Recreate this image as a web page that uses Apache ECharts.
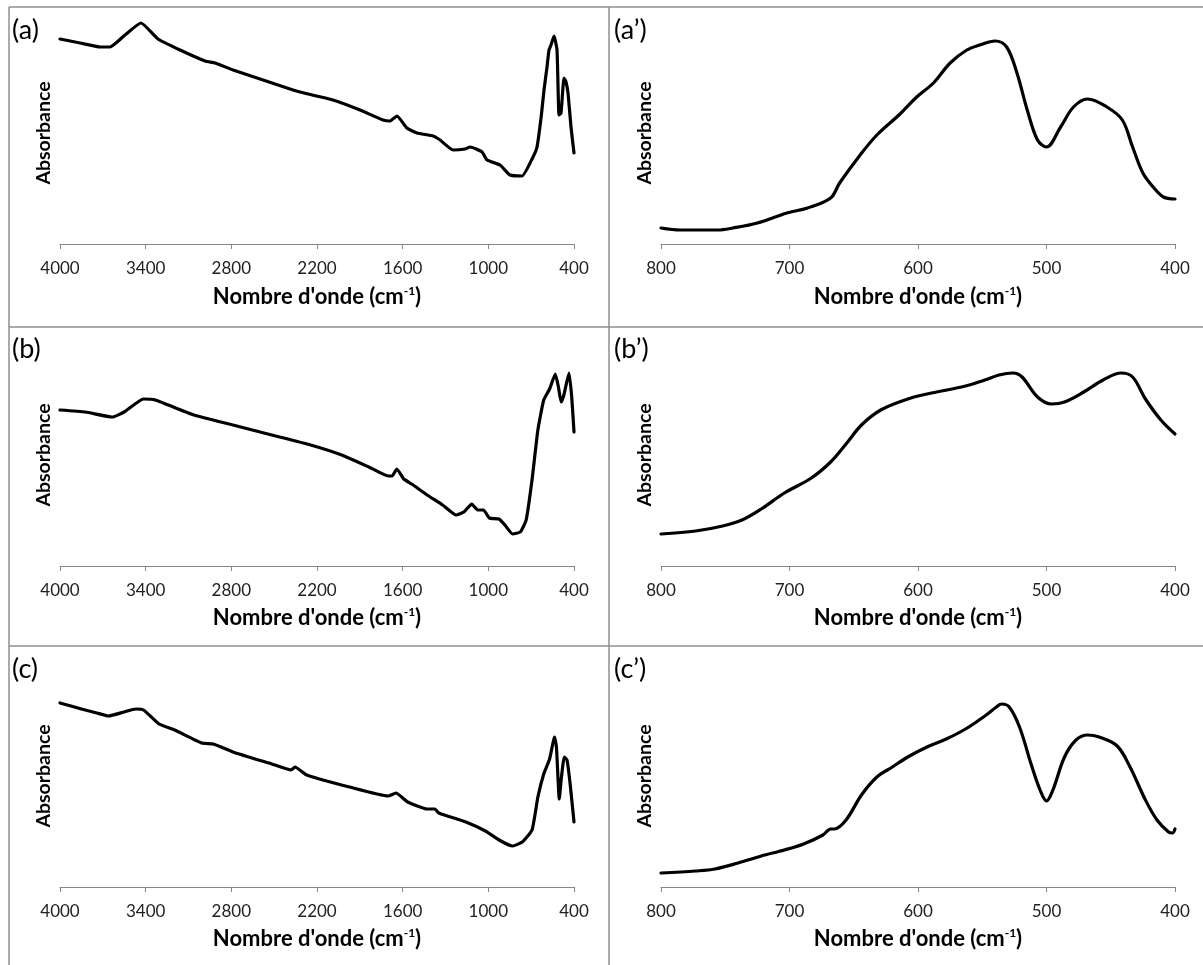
<!DOCTYPE html>
<html>
<head>
<meta charset="utf-8">
<script src="https://cdn.jsdelivr.net/npm/echarts@6/dist/echarts.min.js"></script>
<style>
html,body{margin:0;padding:0;background:#fff;}
#chart{width:1203px;height:965px;}
</style>
</head>
<body>
<div id="chart"></div>
<script>
// ---- Data (wavenumber in cm-1, absorbance in arbitrary units) ----
const panelLabels = ['(a)', '(a\u2019)', '(b)', '(b\u2019)', '(c)', '(c\u2019)'];
const xTitle = "Nombre d'onde (cm";
const yTitle = 'Absorbance';

const aX = [4000,3860,3720,3650,3545,3433,3314,3159,2984,2914,2788,2599,2368,2319,2088,1899,1738,1689,1640,1570,1500,1387,1338,1247,1163,1128,1044,1009,918,848,764,687,659,630,610,589,575,561,540,519,505,491,470,456,442,421,400];
const aY = [205,201,197,197,209,221,205,194,183,181,174,165,154,152,144,134,124,123,128,116,111,108,104,94,95,97,92,84,79,69,68,87,97,127,154,177,194,199,208,194,129,131,166,162,151,117,91];

const apX = [800,785,756,744,725,702,686,668,661,645,632,614,601,588,575,562,552,540,531,523,515,507,500,489,479,468,453,441,433,425,417,409,400];
const apY = [16,14,14,16,21,31,36,46,61,89,109,130,147,161,181,194,199,203,197,171,134,104,97,117,137,145,137,124,97,71,57,47,45];

const bX = [4000,3823,3633,3551,3415,3333,3061,2789,2517,2245,2027,1837,1701,1674,1641,1592,1537,1429,1320,1225,1171,1116,1075,1034,993,925,884,830,776,735,694,653,612,571,531,509,490,471,435,416,400];
const bY = [156,154,149,154,167,166,151,141,131,121,111,99,90,90,97,87,82,71,61,51,54,62,56,56,48,47,41,32,34,46,86,136,166,177,192,179,164,171,193,169,134];

const bpX = [800,773,752,737,722,704,683,668,656,644,629,608,593,563,548,537,526,519,507,496,486,471,456,442,433,423,411,400];
const bpY = [32,35,40,46,57,73,88,104,122,141,156,167,172,180,186,191,193,189,169,162,164,174,186,193,189,167,146,132];

const cX = [4000,3850,3742,3660,3551,3469,3415,3306,3197,3007,2926,2789,2517,2381,2354,2272,1973,1701,1647,1565,1429,1374,1347,1157,1021,912,830,762,694,653,612,571,536,523,503,490,468,449,427,400];
const cY = [184,178,174,171,175,178,177,163,157,144,143,135,123,117,120,112,100,91,94,85,78,78,74,65,56,46,41,45,57,90,113,128,150,140,88,107,130,127,103,65];

const cpX = [800,773,758,740,722,704,689,674,668,665,656,644,632,620,608,593,578,563,548,539,535,529,521,512,505,500,495,486,477,468,459,445,435,423,414,405,402,400];
const cpY = [14,16,18,24,31,37,43,52,58,58,67,92,110,120,130,140,148,158,171,180,183,180,160,123,97,86,97,130,147,152,150,141,120,87,67,55,54,58];

// ---- Build chart ----
const FONT = 'Lato, "Open Sans", sans-serif';
const rowsAxisY = [244, 566, 887];
const nameGaps = [41, 40, 40];
const H = 965, W = 1203;
const yMax = 222;
const panels = [
  {x: aX, y: aY, col: 0, row: 0, smooth: 0.15},
  {x: apX, y: apY, col: 1, row: 0, smooth: 0.35},
  {x: bX, y: bY, col: 0, row: 1, smooth: 0.15},
  {x: bpX, y: bpY, col: 1, row: 1, smooth: 0.35},
  {x: cX, y: cY, col: 0, row: 2, smooth: 0.15},
  {x: cpX, y: cpY, col: 1, row: 2, smooth: 0.35}
];
const colLeft = [60, 661];
const plotW = 514;

const grids = [], xAxes = [], yAxes = [], series = [], titles = [];
const labelPos = [[12, 17], [614, 17], [12, 336], [614, 336], [12, 656], [614, 656]];

panels.forEach((p, i) => {
  const axisY = rowsAxisY[p.row];
  grids.push({
    left: colLeft[p.col],
    width: plotW,
    top: axisY - yMax,
    height: yMax
  });
  const isLeft = p.col === 0;
  xAxes.push({
    gridIndex: i,
    type: 'value',
    inverse: true,
    min: 400,
    max: isLeft ? 4000 : 800,
    interval: isLeft ? 600 : 100,
    axisLine: {show: true, lineStyle: {color: '#868686', width: 1}},
    axisTick: {show: true, inside: false, length: 5, lineStyle: {color: '#868686'}},
    splitLine: {show: false},
    axisLabel: {color: '#222', fontFamily: FONT, fontSize: 17, margin: 16, formatter: v => String(v)},
    name: '{t|' + xTitle + '}{s|-1}{t|)}',
    nameLocation: 'middle',
    nameGap: nameGaps[p.row],
    nameTextStyle: {
      rich: {
        t: {fontFamily: FONT, fontSize: 22, fontWeight: 'bold', color: '#000'},
        s: {fontFamily: FONT, fontSize: 12, fontWeight: 'bold', color: '#000', verticalAlign: 'top', padding: [0, 0, 12, 0]}
      }
    }
  });
  yAxes.push({
    gridIndex: i,
    type: 'value',
    min: 0,
    max: yMax,
    axisLine: {show: false},
    axisTick: {show: false},
    axisLabel: {show: false},
    splitLine: {show: false},
    name: yTitle,
    nameLocation: 'middle',
    nameRotate: 90,
    nameGap: 6,
    nameTextStyle: {fontFamily: FONT, fontSize: 19.5, fontWeight: 'bold', color: '#000'}
  });
  series.push({
    type: 'line',
    xAxisIndex: i,
    yAxisIndex: i,
    data: p.x.map((v, k) => [v, p.y[k]]),
    showSymbol: false,
    smooth: p.smooth,
    clip: false,
    lineStyle: {color: '#000', width: 3.2, join: 'round', cap: 'round'},
    silent: true,
    animation: false
  });
  titles.push({
    text: panelLabels[i],
    left: labelPos[i][0],
    top: labelPos[i][1],
    padding: 0,
    textStyle: {fontFamily: FONT, fontSize: 27, fontWeight: 'normal', color: '#000'}
  });
});

const borderColor = '#8f8f8f';
const graphics = [
  {type: 'line', shape: {x1: 9, y1: 7, x2: W, y2: 7}},
  {type: 'line', shape: {x1: 9, y1: 327, x2: W, y2: 327}},
  {type: 'line', shape: {x1: 9, y1: 646, x2: W, y2: 646}},
  {type: 'line', shape: {x1: 9, y1: 7, x2: 9, y2: H}},
  {type: 'line', shape: {x1: 609, y1: 7, x2: 609, y2: H}}
].map(g => Object.assign(g, {style: {stroke: borderColor, lineWidth: 1.5}, silent: true}));

const chart = echarts.init(document.getElementById('chart'), null, {renderer: 'canvas'});
chart.setOption({
  animation: false,
  backgroundColor: '#fff',
  title: titles,
  grid: grids,
  xAxis: xAxes,
  yAxis: yAxes,
  series: series,
  graphic: graphics
});
</script>
</body>
</html>
